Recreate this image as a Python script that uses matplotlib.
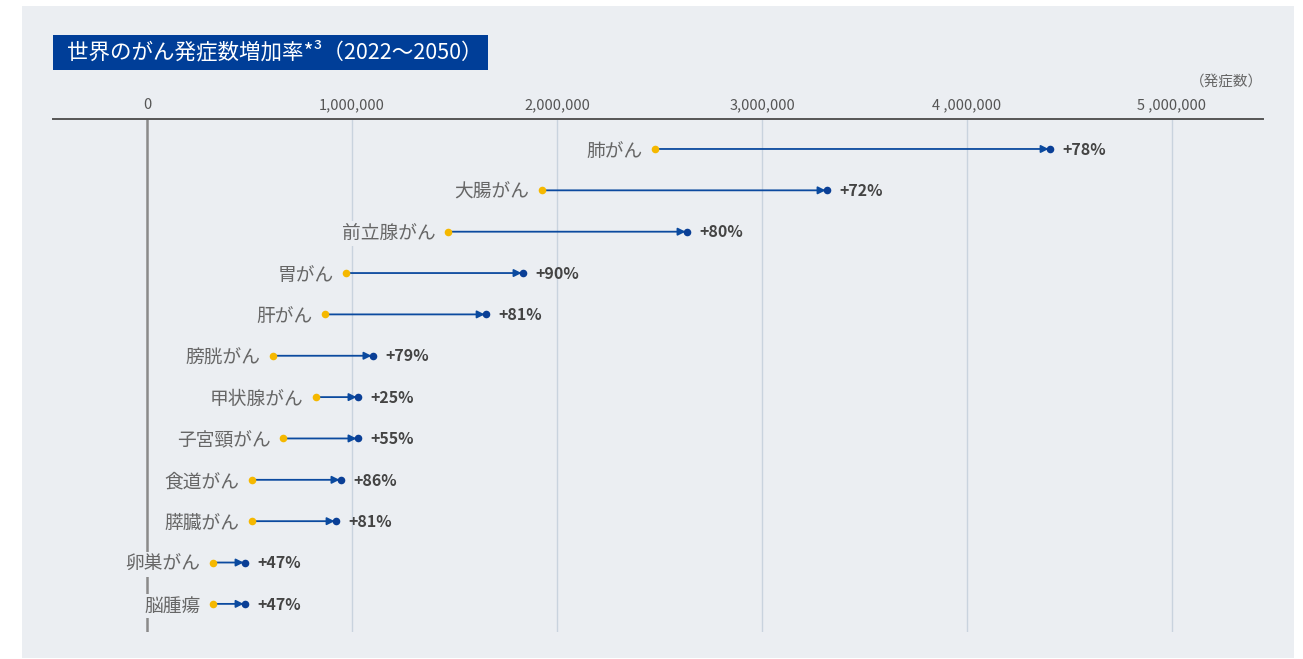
import matplotlib
matplotlib.use('Agg')
import matplotlib.pyplot as plt
from matplotlib.patches import Rectangle

plt.rcParams['font.family'] = ['Noto Sans CJK JP', 'DejaVu Sans']

BG     = "#ebeef2"
NAVY   = "#003e98"
BLUE   = "#0b4a9f"
DOT    = "#0a3f96"
YELLOW = "#f5b800"
GRID   = "#c9d3de"
TXT    = "#666666"
DARK   = "#444444"

# ── data (cases, 2022 -> 2050) ────────────────────────────────────────────────
cancers = ["肺がん", "大腸がん", "前立腺がん", "胃がん", "肝がん", "膀胱がん",
           "甲状腺がん", "子宮頸がん", "食道がん", "膵臓がん", "卵巣がん", "脳腫瘍"]
cases_2022 = [2478000, 1927000, 1468000, 971000, 868000, 615000,
              824000, 663000, 512000, 512000, 322000, 322000]
cases_2050 = [4405000, 3317000, 2634000, 1834000, 1654000, 1102000,
              1029000, 1029000, 946000, 922000, 478000, 478000]
growth = ["+78%", "+72%", "+80%", "+90%", "+81%", "+79%",
          "+25%", "+55%", "+86%", "+81%", "+47%", "+47%"]
xticks = [0, 1000000, 2000000, 3000000, 4000000, 5000000]
xtick_labels = ["0", "1,000,000", "2,000,000", "3,000,000", "4 ,000,000", "5 ,000,000"]

W, H = 1303, 659
fig = plt.figure(figsize=(W / 100, H / 100), dpi=100)
fig.patch.set_facecolor("white")

# background panel
fig.patches.append(Rectangle((22 / W, 1 - 658 / H), (1294 - 22) / W, (658 - 6) / H,
                             transform=fig.transFigure, facecolor=BG, edgecolor="none", zorder=-2))

# title box
fig.patches.append(Rectangle((53 / W, 1 - 70 / H), (488 - 53) / W, 35 / H,
                             transform=fig.transFigure, facecolor=NAVY, edgecolor="none", zorder=-1))
fig.text((53 + 488) / 2 / W + 0.003, 1 - 52.5 / H, "世界のがん発症数増加率*³（2022～2050）",
         ha='center', va='center', color="white", fontsize=15.5, zorder=3)

ax = fig.add_axes([53 / W, 1 - 632 / H, (1263 - 53) / W, (632 - 119) / H])
ax.set_zorder(2)
ax.set_facecolor("none")
ax.set_xlim(-0.4585e6, 5.4439e6)
ax.set_ylim(11.68, -0.725)

for s in ["left", "right", "bottom"]:
    ax.spines[s].set_visible(False)
ax.spines["top"].set_color("#555555")
ax.spines["top"].set_linewidth(1.4)

ax.xaxis.tick_top()
ax.set_xticks(xticks)
ax.set_xticklabels(xtick_labels, fontsize=10.5, color="#555555")
ax.tick_params(axis='x', length=0, pad=5)
ax.set_yticks([])

# grid
for v in xticks[1:]:
    ax.axvline(v, color=GRID, lw=1, zorder=1)
ax.axvline(0, color="#8a8a8a", lw=1.8, zorder=1)

ys = range(len(cancers))
for y, name, a, b, g in zip(ys, cancers, cases_2022, cases_2050, growth):
    ax.annotate("", xy=(b, y), xytext=(a, y),
                arrowprops=dict(arrowstyle='-|>', color=BLUE, lw=1.3,
                                shrinkA=0, shrinkB=1, mutation_scale=11),
                zorder=3)
    ax.annotate(name, xy=(a, y), xytext=(-9, -1.5), textcoords='offset points',
                ha='right', va='center', fontsize=13.5, color=TXT, zorder=4,
                bbox=dict(boxstyle="square,pad=0.1", facecolor=BG, edgecolor="none"))
    ax.annotate(g, xy=(b, y), xytext=(9, -0.5), textcoords='offset points',
                ha='left', va='center', fontsize=11.5, color=DARK,
                fontweight='bold', zorder=4)

ax.scatter(cases_2022, list(ys), s=30, color=YELLOW, zorder=5, linewidths=0)
ax.scatter(cases_2050, list(ys), s=30, color=DOT, zorder=5, linewidths=0)

fig.text(1263 / W, 1 - 83 / H, "（発症数）", ha='right', va='center',
         fontsize=10.5, color=TXT)

fig.savefig("out.png", dpi=100, facecolor="white")
plt.close()
